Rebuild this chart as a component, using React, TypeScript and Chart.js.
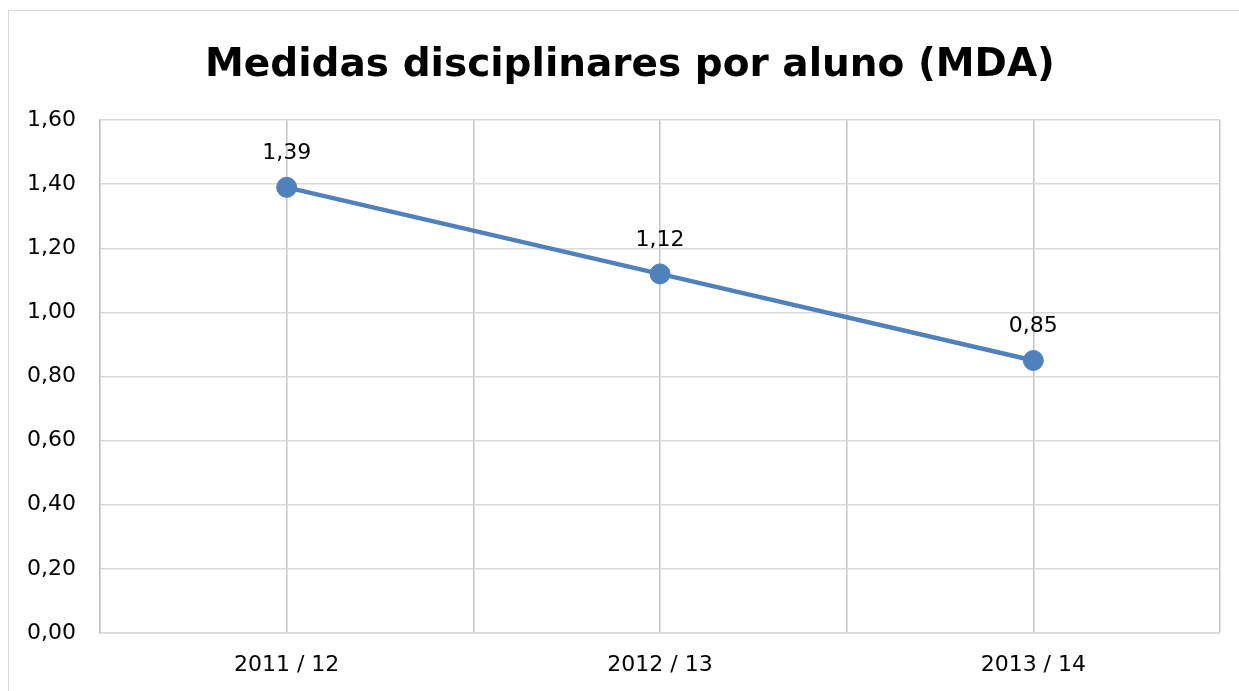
import React, { useEffect, useRef } from "react";
import { Chart, registerables } from "chart.js";

Chart.register(...registerables);

const categories = ["2011 / 12", "2012 / 13", "2013 / 14"];
const values = [1.39, 1.12, 0.85];
const yTicks = [0, 0.2, 0.4, 0.6, 0.8, 1.0, 1.2, 1.4, 1.6];
const titleText = "Medidas disciplinares por aluno (MDA)";

const FONT = "'DejaVu Sans', Tahoma, sans-serif";
const GRID = "#d9d9d9";
const VGRID = "#c4c4c4";
const BLUE = "#4f81bd";

const fmt = (v: number) => (Math.round(v * 100) / 100).toFixed(2).replace(".", ",");

const dataLabels = {
  id: "dataLabels",
  afterDatasetsDraw(chart: any) {
    const ctx = chart.ctx;
    const meta = chart.getDatasetMeta(0);
    ctx.save();
    ctx.font = `22px ${FONT}`;
    ctx.fillStyle = "#000";
    ctx.textAlign = "center";
    ctx.textBaseline = "middle";
    meta.data.forEach((pt: any, i: number) => {
      ctx.fillText(fmt(values[i]), pt.x, pt.y - 34);
    });
    ctx.restore();
  },
};

const titlePlugin = {
  id: "customTitle",
  afterDraw(chart: any) {
    const ctx = chart.ctx;
    ctx.save();
    ctx.font = `bold 39px ${FONT}`;
    ctx.fillStyle = "#000";
    ctx.textAlign = "center";
    ctx.textBaseline = "alphabetic";
    ctx.fillText(titleText, chart.width / 2 + 6, 65);
    ctx.restore();
  },
};

export default function App() {
  const ref = useRef<HTMLCanvasElement | null>(null);
  useEffect(() => {
    if (!ref.current) return;
    const chart = new Chart(ref.current, {
      type: "line",
      data: {
        datasets: [
          {
            data: values.map((v, i) => ({ x: i, y: v })),
            borderColor: BLUE,
            backgroundColor: BLUE,
            borderWidth: 4.5,
            pointRadius: 10,
            pointBorderWidth: 1,
            pointBackgroundColor: BLUE,
            pointBorderColor: BLUE,
            tension: 0,
          },
        ],
      },
      options: {
        animation: false,
        responsive: false,
        maintainAspectRatio: false,
        layout: { padding: { top: 109, right: 19, bottom: 0, left: 0 } },
        plugins: {
          legend: { display: false },
          tooltip: { enabled: false },
          title: { display: false },
        },
        scales: {
          x: {
            type: "linear",
            min: -0.5,
            max: 2.5,
            afterBuildTicks(scale: any) {
              scale.ticks = [-0.5, 0, 0.5, 1, 1.5, 2, 2.5].map((v) => ({ value: v }));
            },
            ticks: {
              autoSkip: false,
              maxRotation: 0,
              padding: 19,
              color: "#000",
              font: { family: FONT, size: 22 },
              callback: (v: any) => (Number.isInteger(v) ? categories[v] : ""),
            },
            grid: { color: VGRID, lineWidth: 1.5, drawTicks: false },
            border: { color: GRID, width: 1.5 },
            afterFit(scale: any) {
              scale.height = 58;
            },
          },
          y: {
            min: 0,
            max: 1.6,
            afterBuildTicks(scale: any) {
              scale.ticks = yTicks.map((v) => ({ value: v }));
            },
            ticks: {
              padding: 24,
              color: "#000",
              font: { family: FONT, size: 22 },
              callback: (v: any) => fmt(Number(v)),
            },
            grid: { color: GRID, lineWidth: 1.5, drawTicks: false },
            border: { color: VGRID, width: 1.5 },
            afterFit(scale: any) {
              scale.width = 91;
            },
          },
        },
      },
      plugins: [dataLabels, titlePlugin],
    });
    return () => chart.destroy();
  }, []);
  return (
    <div
      style={{
        position: "fixed",
        left: 8,
        top: 10,
        width: 1240,
        height: 690,
        borderTop: `1px solid ${GRID}`,
        borderLeft: `1px solid ${GRID}`,
        background: "#fff",
      }}
    >
      <canvas ref={ref} width={1230} height={680} style={{ display: "block" }} />
    </div>
  );
}
